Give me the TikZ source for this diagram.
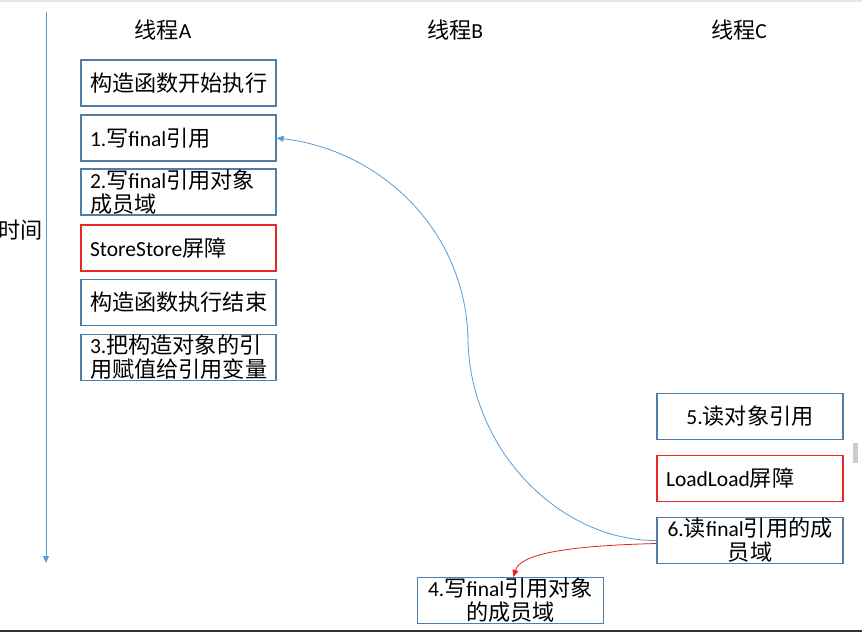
\documentclass[tikz,border=0pt]{standalone}
\usepackage{fontspec}
\setmainfont{Carlito}
\newfontfamily\cjk[Scale=1.03]{Noto Sans CJK SC}
\newcommand\zhs[1]{{\cjk #1}}
\usetikzlibrary{arrows.meta}
\definecolor{boxblue}{RGB}{80,126,168}
\definecolor{boxred}{RGB}{230,40,40}
\definecolor{lineblue}{RGB}{91,155,213}
\definecolor{arrred}{RGB}{235,30,30}
\begin{document}
\begin{tikzpicture}[x=1pt,y=-1pt,
  every node/.style={font=\fontsize{21.5}{24}\selectfont, inner sep=0pt},
  abox/.style={draw=boxblue, line width=1.2pt, minimum width=195pt, minimum height=46pt, text width=177pt, align=left},
  arbox/.style={abox, draw=boxred},
  cbox/.style={draw=boxblue, line width=1.2pt, minimum width=186pt, minimum height=46pt, text width=176pt, align=center},
  crbox/.style={cbox, draw=boxred, text width=168pt, align=left},
  tip/.style={-{Triangle[length=7pt,width=6pt]}}
]
\useasboundingbox (0,0) rectangle (862,632);
\fill[white] (0,0) rectangle (862,632);
\fill[gray!20] (0,0) rectangle (862,1.5);
\fill[black!80] (0,629.5) rectangle (862,632);
\fill[gray!40] (853,443) rectangle (858,463);

% titles
\node (tA) at (163,30) {\zhs{线程}A};
\node (tB) at (455,30) {\zhs{线程}B};
\node (tC) at (739,30) {\zhs{线程}C};
\node (time) at (21,230) {\zhs{时间}};

% time axis
\coordinate (t0) at (46,12);
\coordinate (t1) at (46,563);
\draw[lineblue, line width=1pt, tip] (t0) -- (t1);

% thread A
\node[abox] (A1) at (178.5,83) {\zhs{构造函数开始执行}};
\node[abox] (A2) at (178.5,138) {1.\zhs{写}final\zhs{引用}};
\node[abox] (A3) at (178.5,192) {2.\zhs{写}final\zhs{引用对象}\\\zhs{成员域}};
\node[arbox] (A4) at (178.5,248) {StoreStore\zhs{屏障}};
\node[abox] (A5) at (178.5,302.5) {\zhs{构造函数执行结束}};
\node[abox] (A6) at (178.5,357.5) {3.\zhs{把构造对象的引}\\\zhs{用赋值给引用变量}};

% thread C
\node[cbox] (C1) at (750,416.5) {5.\zhs{读对象引用}};
\node[crbox] (C2) at (750,478.5) {LoadLoad\zhs{屏障}};
\node[cbox] (C3) at (750,540.5) {6.\zhs{读}final\zhs{引用的成}\\\zhs{员域}};

% thread B
\node[cbox] (B) at (510.5,600.5) {4.\zhs{写}final\zhs{引用对象}\\\zhs{的成员域}};

% arrows
\draw[lineblue, line width=0.8pt, tip] (C3.west) .. controls (560,541) and (470,450) .. (468,340)
  .. controls (466,230) and (380,150) .. (A2.east);
\draw[arrred, line width=0.8pt, tip] ([yshift=-3pt]C3.west) .. controls (560,546) and (520,555) .. ([xshift=3pt]B.north);
\end{tikzpicture}
\end{document}
